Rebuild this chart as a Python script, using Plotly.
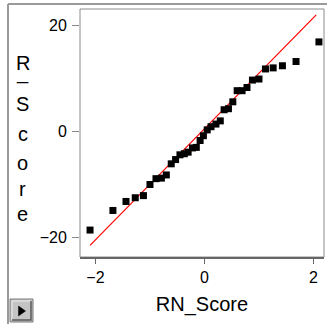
import plotly.graph_objects as go

# ---- data ----
rn_score = [-2.10, -1.68, -1.44, -1.27, -1.12, -1.00, -0.89, -0.79, -0.70, -0.61,
            -0.53, -0.45, -0.37, -0.30, -0.22, -0.15, -0.08, -0.02, 0.05, 0.12,
            0.21, 0.29, 0.36, 0.44, 0.52, 0.60, 0.69, 0.78, 0.88, 1.00,
            1.12, 1.26, 1.43, 1.68, 2.10]
r_score = [-18.6, -14.9, -13.2, -12.5, -12.1, -10.0, -8.9, -8.8, -8.2, -6.1,
           -5.3, -4.4, -4.2, -3.9, -3.1, -3.0, -1.7, -0.8, 0.3, 0.9,
           1.4, 2.0, 4.1, 4.3, 5.6, 7.7, 7.7, 8.3, 9.7, 9.9,
           11.8, 12.0, 12.4, 13.2, 16.9]
ref_line_x = [-2.10, 2.05]
ref_line_y = [-21.5, 22.0]
x_ticks = [-2, 0, 2]
y_ticks = [-20, 0, 20]
x_title = "RN_Score"
y_title_chars = ["R", "_", "S", "c", "o", "r", "e"]

# ---- layout geometry (pixels) ----
W, H = 327, 324
L, R, T, B = 80, 324, 9, 257


def px(xp):
    return (xp - L) / (R - L)


def py(yp):
    return (B - yp) / (B - T)


fig = go.Figure()
fig.add_trace(go.Scatter(x=ref_line_x, y=ref_line_y, mode="lines",
                         line=dict(color="#ff0000", width=1.2),
                         hoverinfo="skip", showlegend=False))
fig.add_trace(go.Scatter(x=rn_score, y=r_score, mode="markers",
                         marker=dict(symbol="square", size=7, color="black",
                                     line=dict(width=0)),
                         showlegend=False))

font = dict(family="Liberation Sans, Arial, sans-serif", color="black")

fig.update_layout(
    width=W, height=H,
    margin=dict(l=L, r=W - R, t=T, b=H - B, pad=0),
    paper_bgcolor="white", plot_bgcolor="white",
    font=dict(**font, size=16),
    xaxis=dict(range=[-2.284, 2.193], tickvals=x_ticks, ticks="outside",
               ticklen=5, tickcolor="#666", tickwidth=1,
               showgrid=False, zeroline=False, showline=True,
               linecolor="#666", linewidth=2,
               tickfont=dict(**font, size=16),
               title=dict(text=x_title, font=dict(**font, size=20), standoff=12)),
    yaxis=dict(range=[-23.68, 23.11], tickvals=y_ticks, ticks="outside",
               ticklen=7, tickcolor="#888", tickwidth=1,
               showgrid=False, zeroline=False, showline=False,
               ticklabelstandoff=2,
               tickfont=dict(**font, size=16)),
)

shapes = []
# plot box frame
shapes.append(dict(type="rect", xref="paper", yref="paper", x0=0, x1=1, y0=0, y1=1,
                   line=dict(color="#8c8c8c", width=1), layer="below"))
# outer frame (left and top edges)
shapes.append(dict(type="line", xref="paper", yref="paper",
                   x0=px(8), x1=px(8), y0=py(4), y1=py(330),
                   line=dict(color="#9a9a9a", width=2)))
shapes.append(dict(type="line", xref="paper", yref="paper",
                   x0=px(8), x1=px(335), y0=py(4), y1=py(4),
                   line=dict(color="#9a9a9a", width=2)))
# button
shapes.append(dict(type="rect", xref="paper", yref="paper",
                   x0=px(10), x1=px(33), y0=py(322), y1=py(299),
                   fillcolor="#c4c4c4", line=dict(color="#7a7a7a", width=1)))
shapes.append(dict(type="path", xref="paper", yref="paper",
                   path=f"M {px(12)} {py(320)} L {px(12)} {py(301)} L {px(31)} {py(301)}",
                   line=dict(color="#eeeeee", width=1)))
shapes.append(dict(type="path", xref="paper", yref="paper",
                   path=f"M {px(12)} {py(320)} L {px(31)} {py(320)} L {px(31)} {py(301)}",
                   line=dict(color="#5a5a5a", width=1.5)))
shapes.append(dict(type="path", xref="paper", yref="paper",
                   path=f"M {px(18.5)} {py(306)} L {px(25.5)} {py(311)} L {px(18.5)} {py(316)} Z",
                   fillcolor="black", line=dict(color="black", width=0.5)))
fig.update_layout(shapes=shapes)

# vertical y-axis title, one character per line
char_centers = [63, 72, 104, 134, 163, 189, 214]
for ch, yc in zip(y_title_chars, char_centers):
    fig.add_annotation(text=ch, xref="paper", yref="paper", x=px(22.5), y=py(yc),
                       xanchor="center", yanchor="middle", showarrow=False,
                       font=dict(**font, size=20))

fig.write_html("out.html")
